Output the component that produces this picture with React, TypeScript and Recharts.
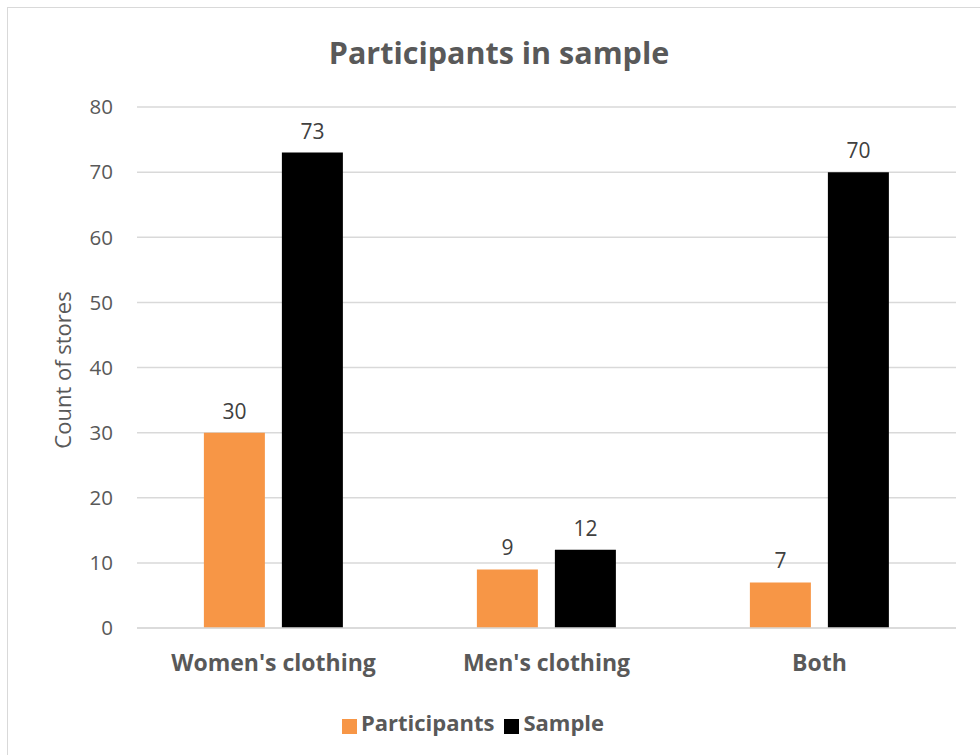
import React from 'react';
import {
  BarChart,
  Bar,
  XAxis,
  YAxis,
  CartesianGrid,
  Legend,
  LabelList,
  Label,
} from 'recharts';

const categories = ["Women's clothing", "Men's clothing", 'Both'];
const participants = [30, 9, 7];
const sample = [73, 12, 70];
const yTicks = [0, 10, 20, 30, 40, 50, 60, 70, 80];

const chartData = categories.map((name, i) => ({
  name,
  participants: participants[i],
  sample: sample[i],
}));

const FONT = "'Open Sans', 'Noto Sans', sans-serif";
const GREY = '#595959';

export default function App() {
  return (
    <div
      style={{
        position: 'absolute',
        left: 0,
        top: 0,
        width: 980,
        height: 755,
        overflow: 'hidden',
        background: '#fff',
        fontFamily: FONT,
      }}
    >
      {/* chart frame, runs off right and bottom */}
      <div
        style={{
          position: 'absolute',
          left: 7,
          top: 7,
          width: 1000,
          height: 800,
          border: '1px solid #d9d9d9',
        }}
      />
      <div
        style={{
          position: 'absolute',
          top: 30,
          left: 0,
          width: 998,
          textAlign: 'center',
          fontSize: 30.5,
          fontWeight: 700,
          color: GREY,
          lineHeight: '44px',
        }}
      >
        Participants in sample
      </div>
      <div style={{ position: 'absolute', left: 0, top: 0 }}>
        <BarChart
          width={980}
          height={755}
          data={chartData}
          margin={{ top: 107, right: 24, bottom: 27, left: 0 }}
          barCategoryGap='24.5%'
          barGap={17}
        >
          <CartesianGrid vertical={false} stroke='#d9d9d9' strokeWidth={1.5} />
          <XAxis
            dataKey='name'
            axisLine={{ stroke: '#d9d9d9', strokeWidth: 1.5 }}
            tickLine={false}
            tickMargin={21}
            height={70}
            tick={{ fill: GREY, fontSize: 23, fontWeight: 700, fontFamily: FONT }}
          />
          <YAxis
            width={137}
            domain={[0, 80]}
            ticks={yTicks}
            axisLine={false}
            tickLine={false}
            tickSize={0}
            tickMargin={24}
            tick={{ fill: GREY, fontSize: 20.5, fontFamily: FONT }}
          >
            <Label
              content={() => (
                <text
                  x={62}
                  y={370}
                  transform='rotate(-90 62 370)'
                  textAnchor='middle'
                  dominantBaseline='central'
                  fill={GREY}
                  fontSize={22}
                  fontFamily={FONT}
                >
                  Count of stores
                </text>
              )}
            />
          </YAxis>
          <Legend
            verticalAlign='bottom'
            align='center'
            iconType='square'
            iconSize={15}
            wrapperStyle={{ bottom: 18 }}
            formatter={(value) => (
              <span style={{ color: GREY, fontSize: 22, fontWeight: 700, fontFamily: FONT }}>
                {value}
              </span>
            )}
          />
          <Bar
            dataKey='participants'
            name='Participants'
            fill='#f79646'
            isAnimationActive={false}
          >
            <LabelList
              dataKey='participants'
              position='top'
              offset={14}
              fill='#404040'
              fontSize={21}
              fontFamily={FONT}
            />
          </Bar>
          <Bar dataKey='sample' name='Sample' fill='#000000' isAnimationActive={false}>
            <LabelList
              dataKey='sample'
              position='top'
              offset={14}
              fill='#404040'
              fontSize={21}
              fontFamily={FONT}
            />
          </Bar>
        </BarChart>
      </div>
    </div>
  );
}
